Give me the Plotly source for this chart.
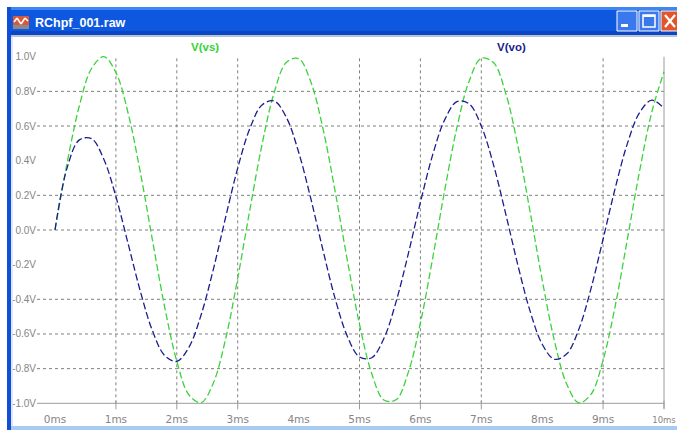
import plotly.graph_objects as go

# ---------------- data ----------------
T_MS = [0.0, 0.2, 0.4, 0.6, 0.8, 1.0, 1.2, 1.4, 1.6, 1.8, 2.0, 2.2, 2.4, 2.6, 2.8,
        3.0, 3.2, 3.4, 3.6, 3.8, 4.0, 4.2, 4.4, 4.6, 4.8, 5.0, 5.2, 5.4, 5.6, 5.8,
        6.0, 6.2, 6.4, 6.6, 6.8, 7.0, 7.2, 7.4, 7.6, 7.8, 8.0, 8.2, 8.4, 8.6, 8.8,
        9.0, 9.2, 9.4, 9.6, 9.8, 10.0]
V_VS = [0.0, 0.389, 0.717, 0.932, 1.0, 0.909, 0.675, 0.335, -0.058, -0.443, -0.757,
        -0.952, -0.996, -0.883, -0.631, -0.279, 0.117, 0.494, 0.794, 0.968, 0.989,
        0.855, 0.585, 0.223, -0.174, -0.544, -0.828, -0.981, -0.980, -0.823, -0.537,
        -0.166, 0.231, 0.592, 0.859, 0.991, 0.966, 0.790, 0.487, 0.108, -0.288,
        -0.638, -0.887, -0.997, -0.949, -0.751, -0.436, -0.050, 0.342, 0.681, 0.913]
V_VO = [0.0, 0.36, 0.52, 0.527, 0.410, 0.193, -0.078, -0.352, -0.581, -0.724, -0.758,
        -0.676, -0.489, -0.227, 0.071, 0.357, 0.586, 0.722, 0.744, 0.649, 0.450,
        0.182, -0.116, -0.396, -0.613, -0.733, -0.737, -0.626, -0.415, -0.139, 0.159,
        0.432, 0.637, 0.741, 0.728, 0.600, 0.377, 0.095, -0.202, -0.467, -0.659,
        -0.746, -0.716, -0.574, -0.340, -0.052, 0.243, 0.500, 0.678, 0.749, 0.702]

X_TICKS = [0, 1, 2, 3, 4, 5, 6, 7, 8, 9, 10]
X_TICK_TEXT = ["0ms", "1ms", "2ms", "3ms", "4ms", "5ms", "6ms", "7ms", "8ms", "9ms",
               "<span style='font-size:8.5px'>10ms</span>"]
Y_TICKS = [1.0, 0.8, 0.6, 0.4, 0.2, 0.0, -0.2, -0.4, -0.6, -0.8, -1.0]
Y_TICK_TEXT = ["1.0V", "0.8V", "0.6V", "0.4V", "0.2V", "0.0V", "-0.2V", "-0.4V", "-0.6V", "-0.8V", "-1.0V"]
GRID_Y = [0.8, 0.6, 0.2, 0.0, -0.4, -0.6, -0.8]
GRID_X = [1, 2, 3, 5, 6, 7, 9]
TICK_MARKS_X = [1, 2, 3, 5, 6, 7, 9, 10]

WINDOW_TITLE = "RChpf_001.raw"
NAME_VS = "V(vs)"
NAME_VO = "V(vo)"

# ---------------- geometry ----------------
W, H = 677, 430
ML, MR, MT, MB = 37, 10, 50, 19
PX_PER_MS = 60.9
X0_PX = 55.0
PX_PER_V = 173.3
Y0_PX = 230.0
XR = [(ML - X0_PX) / PX_PER_MS, (W - MR - X0_PX) / PX_PER_MS]
YR = [-((H - MB) - Y0_PX) / PX_PER_V, (Y0_PX - MT) / PX_PER_V]
PW = W - ML - MR
PH = H - MT - MB


def px(xp):
    return (xp - ML) / PW


def py(yp):
    return ((H - MB) - yp) / PH


GREEN = "#3cd23c"
BLUE = "#1c1c8e"
GRID = "#808080"
AXIS = "#9c9c9c"
LABEL = "#858585"

fig = go.Figure()
fig.add_trace(go.Scatter(x=T_MS, y=V_VS, mode="lines", name=NAME_VS,
                         line=dict(color=GREEN, width=1.3, dash="7px,3px", shape="spline")))
fig.add_trace(go.Scatter(x=T_MS, y=V_VO, mode="lines", name=NAME_VO,
                         line=dict(color=BLUE, width=1.3, dash="7px,3px", shape="spline")))

shapes = []
for g in GRID_Y:
    shapes.append(dict(type="line", xref="x", yref="y", x0=XR[0], x1=10, y0=g, y1=g,
                       line=dict(color=GRID, width=1, dash="3px,3px"), layer="below"))
for g in GRID_X:
    shapes.append(dict(type="line", xref="x", yref="y", x0=g, x1=g, y0=-1.0, y1=1.0,
                       line=dict(color=GRID, width=1, dash="3px,3px"), layer="below"))
# axis frame: bottom and right
shapes.append(dict(type="line", xref="x", yref="y", x0=XR[0], x1=10, y0=-1.0, y1=-1.0,
                   line=dict(color=AXIS, width=1), layer="below"))
shapes.append(dict(type="line", xref="x", yref="y", x0=10, x1=10, y0=-1.03, y1=1.0,
                   line=dict(color=AXIS, width=1), layer="below"))
for t in TICK_MARKS_X:
    shapes.append(dict(type="line", xref="x", yref="y", x0=t, x1=t, y0=-0.985, y1=-1.035,
                       line=dict(color=AXIS, width=1), layer="below"))

# ---------------- window chrome ----------------
def rect(x0, y0, x1, y1, fill, line_color=None, lw=0):
    return dict(type="rect", xref="paper", yref="paper", x0=px(x0), x1=px(x1), y0=py(y1), y1=py(y0),
                fillcolor=fill, line=dict(color=line_color or fill, width=lw), layer="above")


def pline(x0, y0, x1, y1, color, lw=1):
    return dict(type="line", xref="paper", yref="paper", x0=px(x0), x1=px(x1), y0=py(y0), y1=py(y1),
                line=dict(color=color, width=lw), layer="above")

# title bar
shapes.append(rect(7, 7, 677, 35, "#0d58df"))
shapes.append(rect(7, 7, 677, 10, "#3f86f2"))
shapes.append(rect(7, 31, 677, 35, "#0a47c4"))
shapes.append(rect(7, 35, 677, 37, "#b9c3d3"))
# left border
shapes.append(rect(7, 7, 11, 430, "#0f4fd8"))
shapes.append(rect(11, 37, 13, 430, "#dfe7f5"))
# bottom border
shapes.append(rect(11, 426, 677, 430, "#a9caf2"))
# icon
shapes.append(rect(13, 16, 29, 29, "#d9583a"))
shapes.append(rect(13, 25, 29, 29, "#8a8a8a"))
shapes.append(pline(14, 22, 17, 18, "#ffffff", 1.5))
shapes.append(pline(17, 18, 21, 24, "#ffffff", 1.5))
shapes.append(pline(21, 24, 25, 18, "#ffffff", 1.5))
shapes.append(pline(25, 18, 28, 21, "#ffffff", 1.5))
# buttons
shapes.append(dict(type="rect", xref="paper", yref="paper", x0=px(617), x1=px(637), y0=py(31), y1=py(11),
                   fillcolor="#3a78ee", line=dict(color="#ffffff", width=1), layer="above"))
shapes.append(rect(621, 24, 628, 27, "#ffffff"))
shapes.append(dict(type="rect", xref="paper", yref="paper", x0=px(639), x1=px(659), y0=py(31), y1=py(11),
                   fillcolor="#3a78ee", line=dict(color="#ffffff", width=1), layer="above"))
shapes.append(dict(type="rect", xref="paper", yref="paper", x0=px(643), x1=px(655), y0=py(27), y1=py(15),
                   fillcolor="rgba(0,0,0,0)", line=dict(color="#ffffff", width=1.5), layer="above"))
shapes.append(rect(643, 15, 655, 17, "#ffffff"))
shapes.append(dict(type="rect", xref="paper", yref="paper", x0=px(661), x1=px(681), y0=py(31), y1=py(11),
                   fillcolor="#e1552c", line=dict(color="#ffffff", width=1), layer="above"))
shapes.append(pline(665, 15, 675, 27, "#ffffff", 2.2))
shapes.append(pline(665, 27, 675, 15, "#ffffff", 2.2))

annotations = [
    dict(text="<b>" + WINDOW_TITLE + "</b>", xref="paper", yref="paper", x=px(33), y=py(23),
         xanchor="left", yanchor="middle", showarrow=False,
         font=dict(family="Liberation Sans, Arial, sans-serif", size=12.5, color="#ffffff")),
    dict(text="<b>" + NAME_VS + "</b>", xref="paper", yref="paper", x=px(205), y=py(47),
         xanchor="center", yanchor="middle", showarrow=False,
         font=dict(family="Liberation Sans, Arial, sans-serif", size=11.5, color="#35d435")),
    dict(text="<b>" + NAME_VO + "</b>", xref="paper", yref="paper", x=px(511), y=py(47),
         xanchor="center", yanchor="middle", showarrow=False,
         font=dict(family="Liberation Sans, Arial, sans-serif", size=11.5, color="#1c1c8e")),
]

fig.update_layout(
    width=W, height=H,
    margin=dict(l=ML, r=MR, t=MT, b=MB, pad=0, autoexpand=False),
    paper_bgcolor="#ffffff", plot_bgcolor="#ffffff",
    showlegend=False,
    template="none",
    shapes=shapes,
    annotations=annotations,
    xaxis=dict(range=XR, tickvals=X_TICKS, ticktext=X_TICK_TEXT, showgrid=False, zeroline=False,
               showline=False, ticks="", automargin=False, fixedrange=True,
               ticklabeloverflow="allow",
               tickfont=dict(family="DejaVu Sans, sans-serif", size=10.5, color=LABEL)),
    yaxis=dict(range=YR, tickvals=Y_TICKS, ticktext=Y_TICK_TEXT, showgrid=False, zeroline=False,
               showline=False, ticks="", automargin=False, fixedrange=True,
               ticklabeloverflow="allow",
               tickfont=dict(family="Liberation Sans Narrow, Liberation Sans, sans-serif", size=10, color=LABEL)),
)

fig.write_html("out.html", config={"displayModeBar": False})
